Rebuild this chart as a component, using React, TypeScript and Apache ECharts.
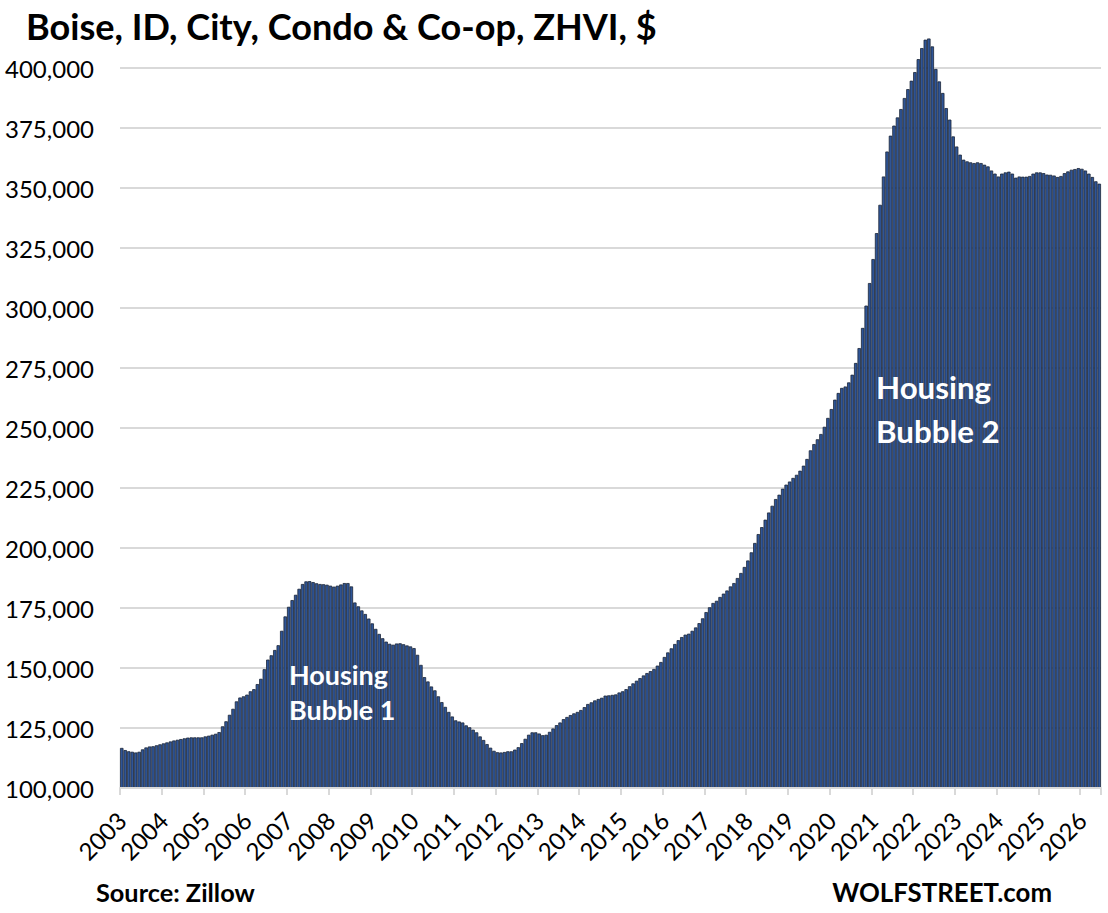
import React, { useEffect, useRef } from "react";
import * as echarts from "echarts";

// Tick labels (one per January)
const years = [
  "2003", "2004", "2005", "2006", "2007", "2008", "2009", "2010", "2011", "2012", "2013", "2014",
  "2015", "2016", "2017", "2018", "2019", "2020", "2021", "2022", "2023", "2024", "2025", "2026",
];
const monthNames = ["01", "02", "03", "04", "05", "06", "07", "08", "09", "10", "11", "12"];

// Monthly ZHVI values ($), one array per year
const v2003 = [116700, 115800, 115300, 115100, 114800, 115100, 116100, 116900, 117300, 117400, 117800, 118200];
const v2004 = [118600, 119000, 119400, 119800, 120100, 120400, 120700, 121000, 121100, 121100, 121100, 121100];
const v2005 = [121500, 121800, 122200, 122600, 123300, 125700, 127800, 130500, 133000, 136100, 137700, 138200];
const v2006 = [138900, 140300, 141200, 143300, 145500, 149500, 153500, 155300, 157500, 159500, 165500, 171500];
const v2007 = [175500, 178300, 180500, 183000, 185000, 186100, 186200, 185800, 185300, 185000, 184900, 184700];
const v2008 = [184300, 183900, 184300, 184800, 185400, 185400, 184000, 177300, 175700, 174000, 172500, 170600];
const v2009 = [168600, 166300, 164200, 162400, 161000, 160100, 159700, 160200, 160300, 159900, 159400, 159000];
const v2010 = [158300, 155500, 151300, 146200, 144400, 142300, 140700, 138200, 135800, 133800, 131700, 129800];
const v2011 = [128200, 127700, 127300, 126100, 125300, 124300, 123200, 121500, 120000, 118300, 116800, 115500];
const v2012 = [114900, 114800, 115000, 115300, 115300, 116000, 117000, 118700, 120500, 122200, 123200, 123200];
const v2013 = [122700, 122000, 122200, 123400, 124800, 126200, 127300, 128700, 129600, 130400, 131100, 131700];
const v2014 = [132500, 133700, 135000, 135700, 136500, 137100, 137600, 138500, 138600, 138800, 139000, 139800];
const v2015 = [140300, 141200, 142400, 143600, 144700, 145800, 146900, 147900, 148700, 149600, 151000, 152500];
const v2016 = [154600, 156500, 158200, 160000, 161600, 162900, 163900, 164300, 165500, 166900, 168700, 170700];
const v2017 = [173300, 175300, 177100, 178000, 179600, 181000, 182300, 184000, 185400, 187500, 189600, 192100];
const v2018 = [194800, 198200, 202100, 205800, 208700, 211800, 214800, 217600, 220400, 222200, 224700, 226400];
const v2019 = [227700, 229200, 230500, 232200, 234300, 237100, 240700, 243300, 245300, 247500, 250500, 254200];
const v2020 = [257900, 261800, 264600, 266700, 267300, 269000, 272200, 277100, 283300, 291700, 301000, 310400];
const v2021 = [320400, 331200, 343000, 354800, 365200, 371800, 376000, 379400, 382900, 387500, 391200, 394700];
const v2022 = [398300, 403700, 408300, 411800, 412300, 409000, 399600, 394400, 389600, 383300, 378500, 371500];
const v2023 = [367300, 363900, 361800, 361100, 360700, 360400, 360700, 360400, 359700, 359000, 357300, 356000];
const v2024 = [354800, 356000, 356500, 356800, 356000, 354300, 354800, 354700, 354700, 355000, 356000, 356500];
const v2025 = [356500, 356200, 355600, 355500, 355200, 354600, 355000, 356200, 356900, 357600, 357900, 358300];
const v2026 = [358000, 357300, 356000, 354600, 352800, 351800];

const yearly = [
  v2003, v2004, v2005, v2006, v2007, v2008, v2009, v2010, v2011, v2012, v2013, v2014,
  v2015, v2016, v2017, v2018, v2019, v2020, v2021, v2022, v2023, v2024, v2025, v2026,
];

const values: number[] = [];
const categories: string[] = [];
yearly.forEach((arr, yi) => {
  arr.forEach((v, mi) => {
    values.push(v);
    categories.push(years[yi] + "-" + monthNames[mi]);
  });
});

const TITLE = "Boise, ID, City, Condo & Co-op, ZHVI, $";
const FONT = "Lato, 'Open Sans', sans-serif";

const fmt = (v: number) => String(v).replace(/\B(?=(\d{3})+(?!\d))/g, ",");

// Pick a font size so that a text gets the width it has in the reference
function fitSize(text: string, weight: string, targetWidth: number, fallback: number) {
  try {
    const ctx = document.createElement("canvas").getContext("2d");
    if (!ctx) return fallback;
    ctx.font = `${weight} 100px ${FONT}`;
    const w = ctx.measureText(text).width;
    if (!w) return fallback;
    return Math.round((100 * targetWidth) / w * 10) / 10;
  } catch (e) {
    return fallback;
  }
}

export default function App() {
  const ref = useRef<HTMLDivElement>(null);
  useEffect(() => {
    if (!ref.current) return;
    const chart = echarts.init(ref.current, undefined, { renderer: "svg" });
    const isJan = (i: number) => i % 12 === 0;

    const titleSize = fitSize(TITLE, "bold", 631, 34);
    const axisSize = fitSize("400,000", "normal", 89, 24);
    const b1Size = fitSize("Housing", "bold", 99, 27);
    const b2Size = fitSize("Housing", "bold", 115, 31);
    const srcSize = fitSize("Source: Zillow", "bold", 159, 24);
    const wsSize = fitSize("WOLFSTREET.com", "bold", 220, 24);

    // baseline y = 788, 400,000 at y = 68: 0.0024 px per $
    const BOTTOM = 125;
    const MAX_BAR = 413000;
    const topBars = 788 - (MAX_BAR - 100000) * 0.0024;

    const label = (text: string, x: number, y: number, size: number, fill: string, align = "left") => ({
      type: "text",
      x,
      y,
      z: 100,
      silent: true,
      style: {
        text,
        font: `bold ${size}px ${FONT}`,
        fill,
        align,
        verticalAlign: "middle",
      },
    });

    chart.setOption({
      animation: false,
      backgroundColor: "#ffffff",
      textStyle: { fontFamily: FONT },
      grid: [
        { left: 120, right: 7, top: topBars, bottom: BOTTOM, containLabel: false, outerBoundsMode: "none" },
        { left: 120, right: 7, top: 68, bottom: BOTTOM, containLabel: false, outerBoundsMode: "none" },
      ],
      xAxis: [
        {
          type: "category",
          gridIndex: 0,
          data: categories,
          boundaryGap: true,
          axisLine: { show: true, lineStyle: { color: "#d9d9d9", width: 2 } },
          axisTick: {
            show: true,
            interval: (i: number) => isJan(i),
            length: 7,
            lineStyle: { color: "#d9d9d9", width: 2 },
          },
          axisLabel: {
            interval: (i: number) => isJan(i),
            formatter: (v: string) => v.slice(0, 4),
            rotate: 45,
            margin: 28,
            color: "#000000",
            fontSize: axisSize,
            fontFamily: FONT,
          },
          splitLine: { show: false },
          z: 3,
        },
        {
          type: "category",
          gridIndex: 1,
          data: categories,
          show: false,
        },
      ],
      yAxis: [
        {
          type: "value",
          gridIndex: 0,
          min: 100000,
          max: MAX_BAR,
          show: false,
          splitLine: { show: false },
        },
        {
          type: "value",
          gridIndex: 1,
          min: 100000,
          max: 400000,
          interval: 25000,
          axisLine: { show: false },
          axisTick: { show: false },
          axisLabel: {
            formatter: (v: number) => fmt(v),
            color: "#000000",
            fontSize: axisSize,
            margin: 26,
            fontFamily: FONT,
          },
          splitLine: { show: true, lineStyle: { color: "#d9d9d9", width: 2 } },
        },
      ],
      series: [
        {
          type: "bar",
          xAxisIndex: 0,
          yAxisIndex: 0,
          data: values,
          barCategoryGap: "0%",
          itemStyle: {
            color: "#2f5597",
            borderColor: "#1c2637",
            borderWidth: 0.8,
          },
          emphasis: { disabled: true },
        },
        {
          type: "line",
          xAxisIndex: 1,
          yAxisIndex: 1,
          data: [],
          silent: true,
        },
      ],
      graphic: [
        label(TITLE, 26, 26, titleSize, "#000000"),
        label("Housing", 289, 674, b1Size, "#ffffff"),
        label("Bubble 1", 289, 709.5, b1Size, "#ffffff"),
        label("Housing", 876, 387, b2Size, "#ffffff"),
        label("Bubble 2", 876, 431, b2Size, "#ffffff"),
        label("Source: Zillow", 96, 892, srcSize, "#000000"),
        label("WOLFSTREET.com", 1052, 892, wsSize, "#000000", "right"),
      ],
    });
    return () => chart.dispose();
  }, []);
  return (
    <div
      ref={ref}
      style={{ position: "fixed", left: 0, top: 0, width: 1108, height: 913 }}
    />
  );
}
